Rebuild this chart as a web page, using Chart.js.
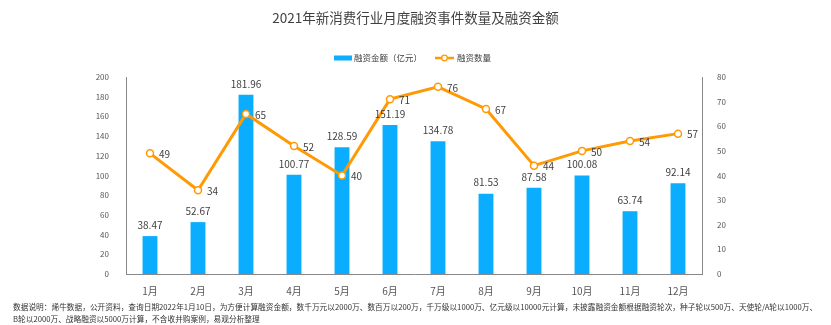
<!DOCTYPE html>
<html lang="zh-CN">
<head>
<meta charset="UTF-8">
<title>2021年新消费行业月度融资事件数量及融资金额</title>
<script src="https://cdn.jsdelivr.net/npm/chart.js"></script>
<style>
  html, body { margin: 0; padding: 0; background: #fff; }
  #wrap { width: 831px; height: 325px; position: relative; }
</style>
</head>
<body>
<div id="wrap"><canvas id="chart"></canvas></div>
<script>
// 数据
const months = ['1月', '2月', '3月', '4月', '5月', '6月', '7月', '8月', '9月', '10月', '11月', '12月'];
const amounts = [38.47, 52.67, 181.96, 100.77, 128.59, 151.19, 134.78, 81.53, 87.58, 100.08, 63.74, 92.14];
const counts = [49, 34, 65, 52, 40, 71, 76, 67, 44, 50, 54, 57];
const noteLines = [
  '数据说明：烯牛数据，公开资料，查询日期2022年1月10日，为方便计算融资金额，数千万元以2000万、数百万以200万，千万级以1000万、亿元级以10000元计算，未披露融资金额根据融资轮次，种子轮以500万、天使轮/A轮以1000万、',
  'B轮以2000万、战略融资以5000万计算，不含收并购案例，易观分析整理'
];

const FONT = '"Noto Sans CJK SC", "Noto Sans", sans-serif';
const BLUE = '#0AADFF';
const ORANGE = '#FF9A05';

// 图例 + 数值标签 + 底部说明
const labelPlugin = {
  id: 'labels',
  afterDatasetsDraw(chart) {
    const ctx = chart.ctx;
    ctx.save();
    ctx.font = '10px ' + FONT;
    ctx.fillStyle = '#404040';
    chart.getDatasetMeta(1).data.forEach((el, i) => {
      ctx.textAlign = 'center';
      ctx.textBaseline = 'bottom';
      ctx.fillText(amounts[i].toFixed(2), el.x, el.y - 6);
    });
    chart.getDatasetMeta(0).data.forEach((el, i) => {
      ctx.textAlign = 'left';
      ctx.textBaseline = 'middle';
      ctx.fillText(String(counts[i]), el.x + 9, el.y + 1);
    });

    // 图例
    const ly = 58;
    ctx.font = '8.5px ' + FONT;
    ctx.textAlign = 'left';
    ctx.textBaseline = 'middle';
    ctx.fillStyle = BLUE;
    ctx.fillRect(334, ly - 2.5, 18, 5);
    ctx.fillStyle = '#404040';
    const t1 = chart.data.datasets[1].label;
    ctx.fillText(t1, 354, ly);
    const x2 = 354 + ctx.measureText(t1).width + 13;
    ctx.strokeStyle = ORANGE;
    ctx.lineWidth = 2.5;
    ctx.beginPath(); ctx.moveTo(x2, ly); ctx.lineTo(x2 + 19, ly); ctx.stroke();
    ctx.fillStyle = '#fff';
    ctx.lineWidth = 1.3;
    ctx.beginPath(); ctx.arc(x2 + 9.5, ly, 2.8, 0, Math.PI * 2); ctx.fill(); ctx.stroke();
    ctx.fillStyle = '#404040';
    ctx.fillText(chart.data.datasets[0].label, x2 + 22, ly);

    // 说明文字按宽度缩放
    ctx.font = '10px ' + FONT;
    const size = 10 * 805 / ctx.measureText(noteLines[0]).width;
    ctx.font = size.toFixed(2) + 'px ' + FONT;
    ctx.fillStyle = '#333';
    noteLines.forEach((t, i) => ctx.fillText(t, 13, 307 + i * 12.5));
    ctx.restore();
  }
};

const ctx = document.getElementById('chart').getContext('2d');
new Chart(ctx, {
  data: {
    labels: months,
    datasets: [
      {
        type: 'line',
        label: '融资数量',
        data: counts,
        yAxisID: 'y1',
        borderColor: ORANGE,
        borderWidth: 3,
        pointRadius: 3.5,
        pointBorderWidth: 1.5,
        pointBackgroundColor: '#fff',
        pointBorderColor: ORANGE,
        tension: 0,
        order: 0
      },
      {
        type: 'bar',
        label: '融资金额（亿元）',
        data: amounts,
        yAxisID: 'y',
        backgroundColor: BLUE,
        barPercentage: 0.31,
        categoryPercentage: 1,
        order: 1
      }
    ]
  },
  options: {
    responsive: true,
    maintainAspectRatio: false,
    animation: false,
    layout: { padding: { left: 0, right: 0, top: 0, bottom: 25 } },
    plugins: {
      title: {
        display: true,
        text: '2021年新消费行业月度融资事件数量及融资金额',
        color: '#404040',
        font: { family: FONT, size: 13.5, weight: 'normal' },
        padding: { top: 9.5, bottom: 51.3 }
      },
      legend: { display: false },
      tooltip: { enabled: false }
    },
    scales: {
      x: {
        grid: { display: false, drawTicks: false, tickLength: 0 },
        border: { display: true, color: '#888', width: 1 },
        ticks: { color: '#555', font: { family: FONT, size: 10 }, padding: 11 },
        afterFit(s) { s.height = 26; }
      },
      y: {
        position: 'left',
        min: 0, max: 200,
        grid: { display: false },
        border: { display: true, color: '#888', width: 1 },
        ticks: { stepSize: 20, color: '#555', font: { family: FONT, size: 8 }, padding: 9 },
        afterFit(s) { s.width = 126; }
      },
      y1: {
        position: 'right',
        min: 0, max: 80,
        grid: { display: false },
        border: { display: true, color: '#888', width: 1 },
        ticks: { stepSize: 10, color: '#555', font: { family: FONT, size: 8 }, padding: 7 },
        afterFit(s) { s.width = 129; }
      }
    }
  },
  plugins: [labelPlugin]
});
</script>
</body>
</html>
